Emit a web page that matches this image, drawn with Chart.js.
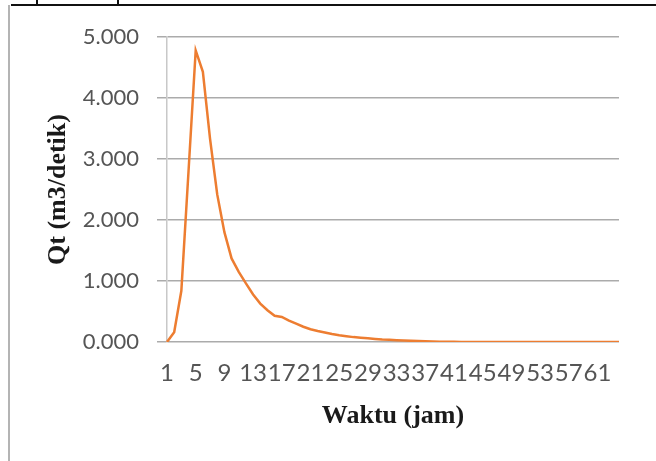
<!DOCTYPE html>
<html>
<head>
  <title>Qt - Waktu</title>
  <script src="https://cdn.jsdelivr.net/npm/chart.js"></script>
  <style>
    body { margin: 0; background: #fff; }
    .page { position: relative; width: 656px; height: 461px; overflow: hidden; }
    .top-rule { position: absolute; left: 11px; right: 0; top: 4px; height: 2px; background: #111; }
    .left-rule { position: absolute; left: 8px; top: 5px; bottom: 0; width: 2px; background: #b4b4b4; }
    .mark { position: absolute; top: 0; width: 2px; height: 5px; background: #111; }
    canvas { position: absolute; left: 0; top: 0; }
  </style>
</head>
<body>
  <div class="page">
    <div class="top-rule"></div>
    <div class="mark" style="left:36px"></div>
    <div class="mark" style="left:117px"></div>
    <div class="left-rule"></div>
    <canvas id="qt-chart" width="656" height="461"></canvas>
  </div>
  <script>
    // jam ke-1 .. 64
    const waktu = [
      1, 2, 3, 4, 5, 6, 7, 8, 9, 10, 11, 12, 13, 14, 15, 16,
      17, 18, 19, 20, 21, 22, 23, 24, 25, 26, 27, 28, 29, 30, 31, 32,
      33, 34, 35, 36, 37, 38, 39, 40, 41, 42, 43, 44, 45, 46, 47, 48,
      49, 50, 51, 52, 53, 54, 55, 56, 57, 58, 59, 60, 61, 62, 63, 64
    ];
    // debit Qt (m3/detik)
    const qt = [
      0, 0.16, 0.84, 2.8, 4.78, 4.43, 3.33, 2.42, 1.8, 1.37, 1.15, 0.96, 0.78, 0.63, 0.52, 0.43,
      0.41, 0.35, 0.3, 0.25, 0.21, 0.18, 0.155, 0.13, 0.11, 0.095, 0.08, 0.07, 0.06, 0.05, 0.04, 0.035,
      0.03, 0.025, 0.02, 0.015, 0.012, 0.009, 0.006, 0.004, 0.003, 0.002, 0.001, 0.001, 0.001, 0, 0, 0,
      0, 0, 0, 0, 0, 0, 0, 0, 0, 0, 0, 0, 0, 0, 0, 0
    ];
    const xTickLabels = ["1", "5", "9", "13", "17", "21", "25", "29", "33", "37", "41", "45", "49", "53", "57", "61"];
    const yTicks = [0, 1, 2, 3, 4, 5];

    const ctx = document.getElementById("qt-chart").getContext("2d");
    new Chart(ctx, {
      type: "line",
      data: {
        labels: waktu.map(String),
        datasets: [{
          data: qt,
          borderColor: "#ED7D31",
          borderWidth: 2.5,
          pointRadius: 0,
          tension: 0,
          fill: false
        }]
      },
      options: {
        responsive: false,
        animation: false,
        layout: { padding: { left: 20, right: 37, top: 37, bottom: 20 } },
        plugins: { legend: { display: false }, tooltip: { enabled: false } },
        scales: {
          x: {
            grid: { display: false },
            border: { display: false },
            ticks: {
              autoSkip: false,
              maxRotation: 0,
              minRotation: 0,
              padding: 9,
              color: "#555",
              font: { family: "Lato", size: 24 },
              callback: function(value, index) {
                const lab = this.getLabelForValue(value);
                return xTickLabels.includes(lab) ? lab : "";
              }
            },
            title: {
              display: true,
              text: "Waktu (jam)",
              color: "#1a1a1a",
              font: { family: "Liberation Serif", size: 26, weight: "bold" },
              padding: { top: 0, bottom: 9 }
            },
            afterFit: function(scale) { scale.height = 99; }
          },
          y: {
            min: yTicks[0],
            max: yTicks[yTicks.length - 1],
            afterBuildTicks: function(scale) {
              scale.ticks = yTicks.map(v => ({ value: v }));
            },
            grid: { color: "#ababab", lineWidth: 1.5, tickLength: 10 },
            border: { color: "#c8c8c8", width: 1.5 },
            ticks: {
              padding: 18,
              color: "#555",
              font: { family: "Lato", size: 22 },
              callback: v => Number(v).toFixed(3)
            },
            title: {
              display: true,
              text: "Qt (m3/detik)",
              color: "#1a1a1a",
              font: { family: "Liberation Serif", size: 26, weight: "bold" },
              padding: { top: 23, bottom: 0 }
            },
            afterFit: function(scale) { scale.width = 147; }
          }
        }
      }
    });
  </script>
</body>
</html>
